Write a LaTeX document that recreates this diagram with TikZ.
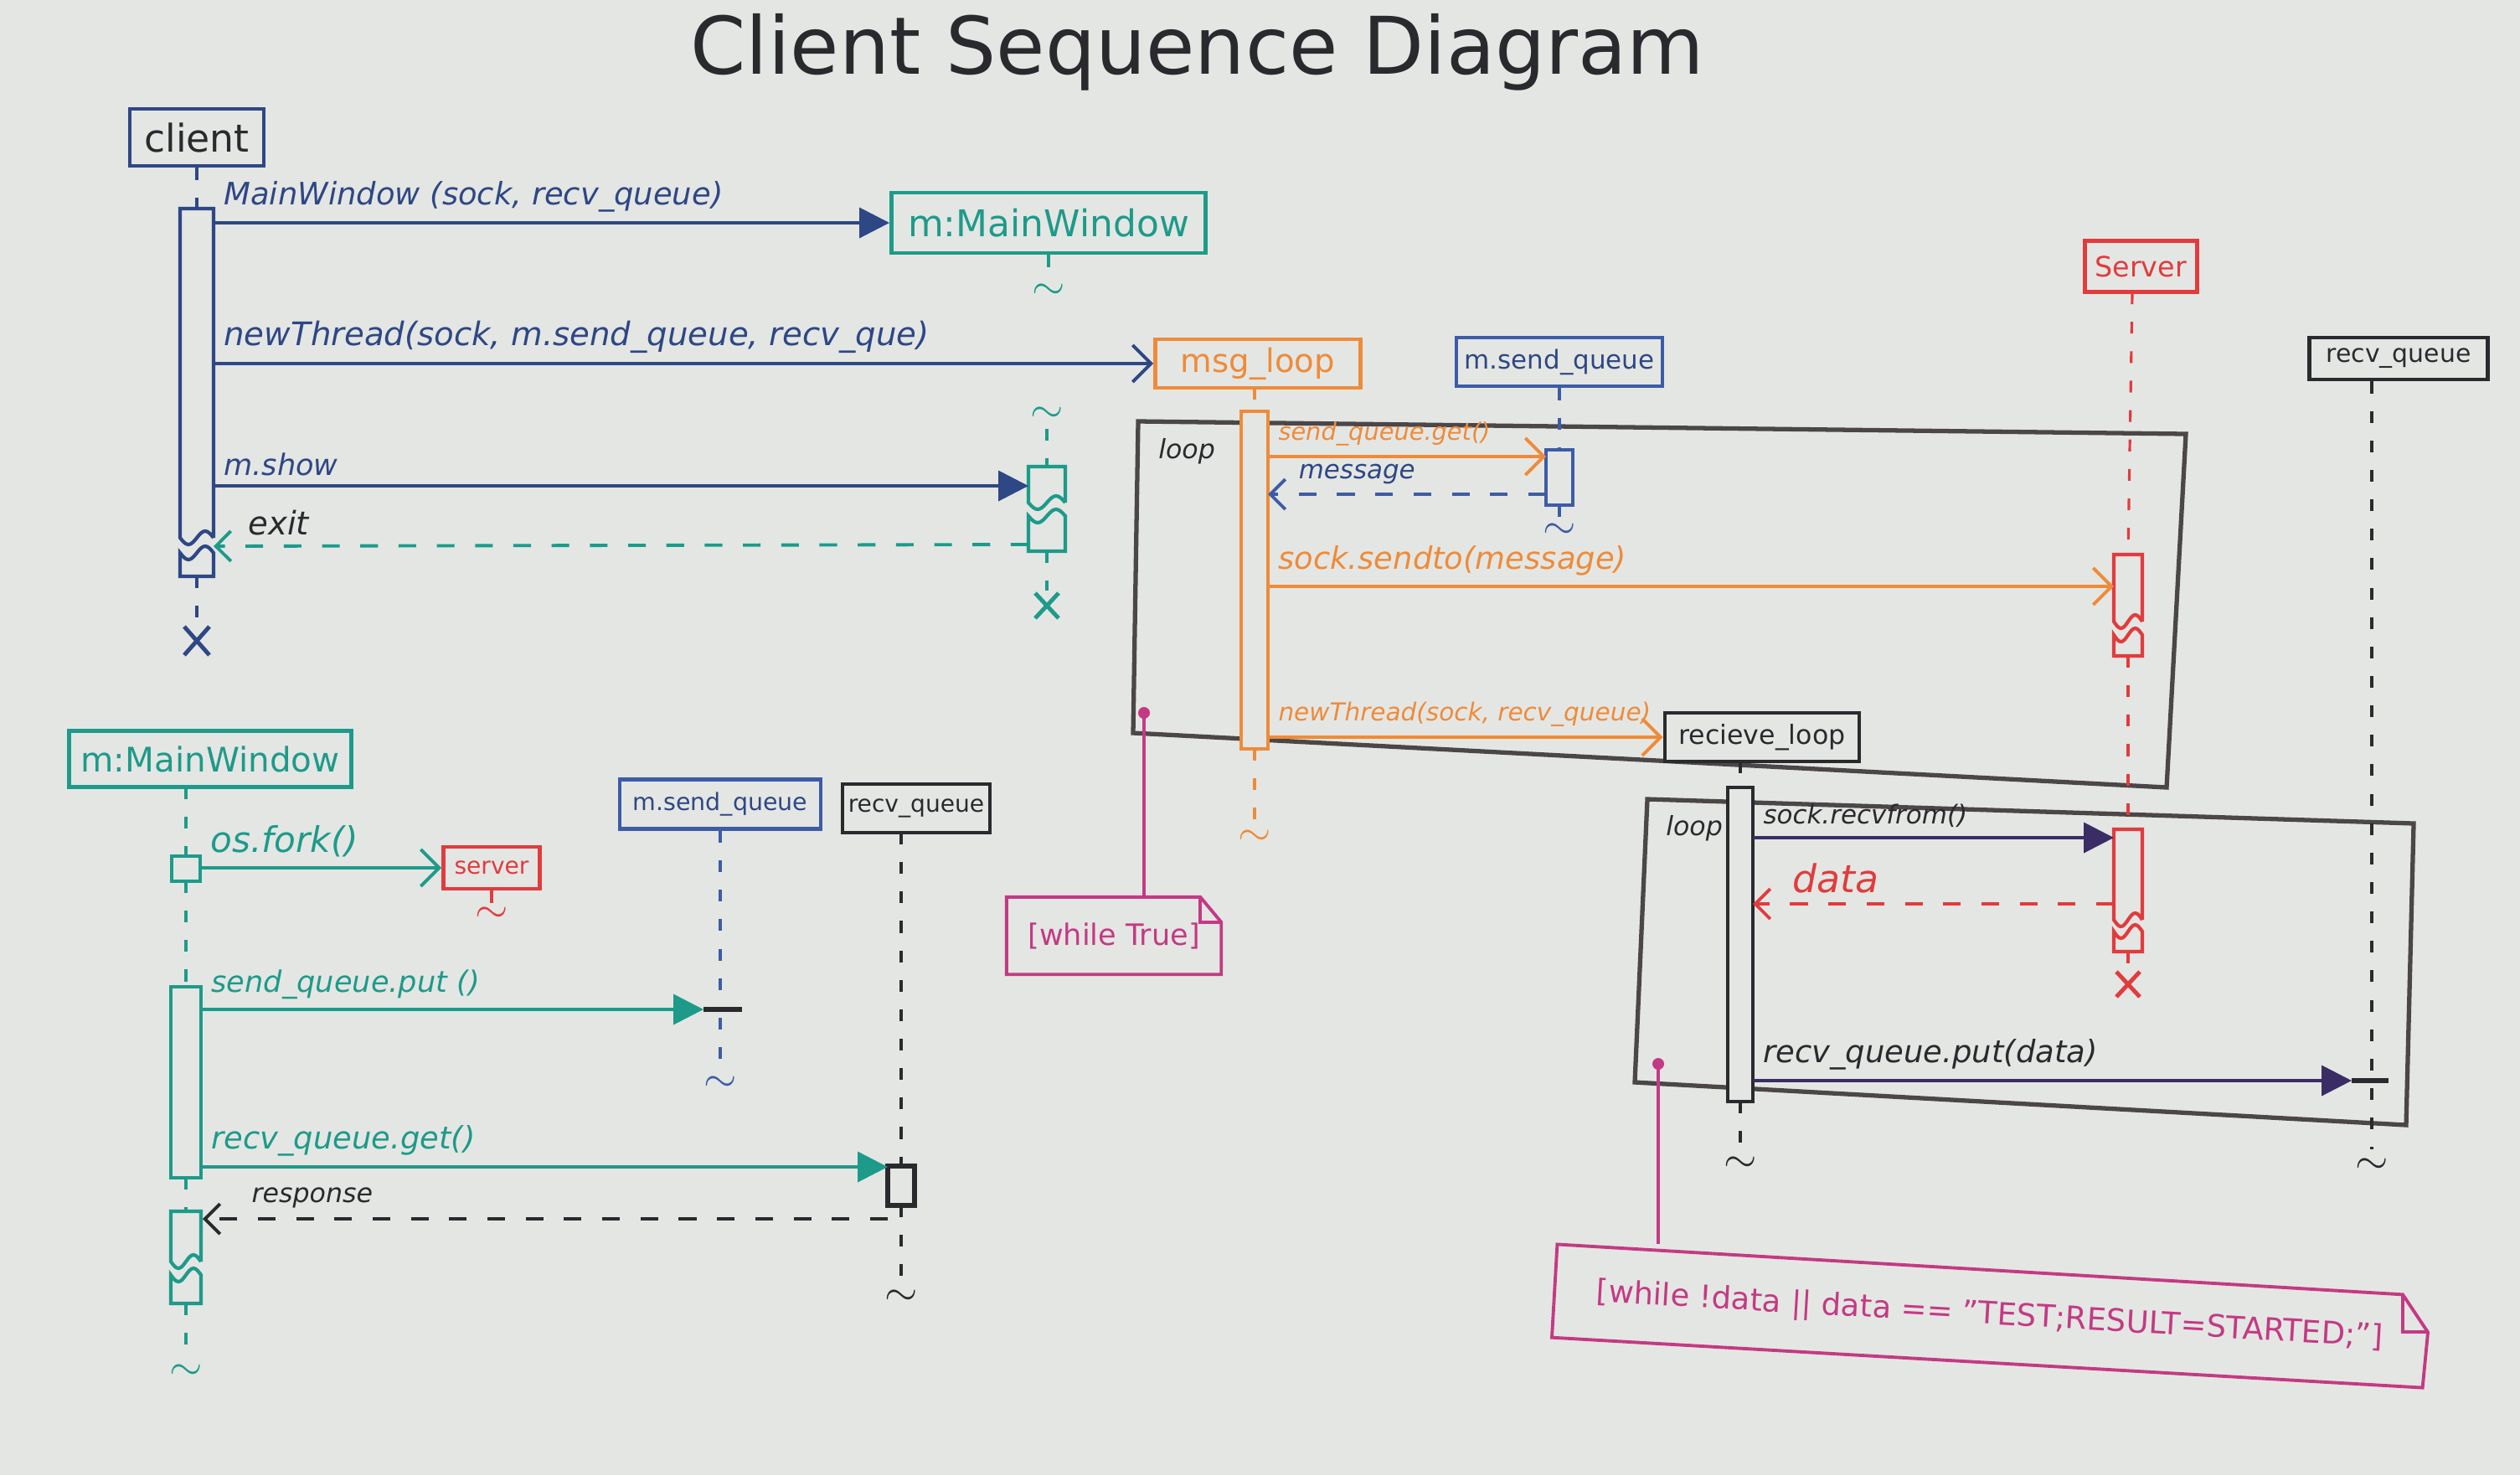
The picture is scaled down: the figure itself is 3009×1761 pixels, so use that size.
\documentclass[tikz,border=0pt]{standalone}
\usepackage{fontspec}
\setmainfont{DejaVu Sans}
\usetikzlibrary{arrows.meta}

\definecolor{board}{HTML}{E4E6E3}
\definecolor{ink}{HTML}{2A2A2E}
\definecolor{navy}{HTML}{2E4785}
\definecolor{qblue}{HTML}{3D5CA6}
\definecolor{tealm}{HTML}{1E9A8A}
\definecolor{orangem}{HTML}{EE8B3A}
\definecolor{redm}{HTML}{E03C3E}
\definecolor{grayf}{HTML}{4B4647}
\definecolor{pinkm}{HTML}{C33A84}
\definecolor{purplem}{HTML}{3A2D66}

\begin{document}
\begin{tikzpicture}[
    x=0.1mm, y=-0.1mm,
    obj/.style={rectangle, draw, fill=board, line width=1.4pt, inner sep=0pt, font=\fontsize{#1}{#1}\selectfont},
    obj/.default=12,
    life/.style={line width=0.9pt, dash pattern=on 4pt off 6pt},
    act/.style={line width=1.2pt, fill=board},
    msg/.style={line width=1.1pt, -{Triangle[length=3.6mm, width=3.6mm]}},
    call/.style={line width=1.1pt, -{Straight Barb[length=2.2mm, width=4.4mm, line width=1.1pt]}},
    ret/.style={line width=1.1pt, dash pattern=on 6pt off 7pt, -{Straight Barb[length=1.8mm, width=3.6mm, line width=1.1pt]}},
    lbl/.style={inner sep=3pt, font=\itshape\fontsize{#1}{#1}\selectfont},
    lbl/.default=10.5,
    notetxt/.style={inner sep=0pt, font=\fontsize{#1}{#1}\selectfont},
    tld/.style={inner sep=0pt, font=\fontsize{15}{15}\selectfont},
    frm/.style={draw=grayf, line width=1.5pt},
    notebox/.style={draw=pinkm, line width=1.1pt},
    cross/.style={line width=1.4pt}
  ]
    % Board
    \fill[board] (0,0) rectangle (3009,1761);

    % Title
    \node[text=ink, font=\fontsize{27}{30}\selectfont] (title) at (1430,62) {Client Sequence Diagram};

    % Loop frames
    \draw[frm] (1359,503) -- (2610,518) -- (2587,940) -- (1353,875) -- cycle;
    \node[lbl=9, text=ink, anchor=north west] (loopA) at (1372,512) {loop};
    \draw[frm] (1967,954) -- (2882,983) -- (2873,1343) -- (1952,1292) -- cycle;
    \node[lbl=9, text=ink, anchor=north west] (loopB) at (1978,962) {loop};

    % Notes
    \coordinate (dotA) at (1366,851);
    \node[notetxt=10, text=pinkm, minimum width=2.55cm, minimum height=0.91cm] (noteA) at (1330,1117) {[while True]};
    \draw[notebox] (noteA.south west) -- (noteA.north west) -- ([xshift=-0.25cm]noteA.north east) -- ([yshift=-0.3cm]noteA.north east) -- (noteA.south east) -- cycle;
    \draw[notebox] ([xshift=-0.25cm]noteA.north east) |- ([yshift=-0.3cm]noteA.north east);
    \fill[pinkm] (dotA) circle (0.7mm);
    \draw[pinkm, line width=0.9pt] (dotA) -- (noteA.north -| dotA);

    \coordinate (dotB) at (1980,1270);
    \node[notetxt=10.5, text=pinkm, rotate=-3.3, minimum width=10.4cm, minimum height=1.1cm] (noteB) at (2376,1571) {[while !data || data == \symbol{34}TEST;RESULT=STARTED;\symbol{34}]};
    \draw[notebox] (noteB.south west) -- (noteB.north west) -- ([xshift=-0.3cm]noteB.north east) -- ([yshift=-0.45cm]noteB.north east) -- (noteB.south east) -- cycle;
    \draw[notebox] ([xshift=-0.3cm]noteB.north east) |- ([yshift=-0.45cm]noteB.north east);
    \fill[pinkm] (dotB) circle (0.7mm);
    \draw[pinkm, line width=0.9pt] (dotB) -- (noteB.north west -| dotB);

    % Participants
    \node[obj=13, draw=navy, text=ink, minimum width=1.6cm, minimum height=0.68cm] (client) at (235,164) {client};
    \node[obj=12.5, draw=tealm, text=tealm, minimum width=3.75cm, minimum height=0.72cm] (mw) at (1252,266) {m:MainWindow};
    \node[obj=11, draw=orangem, text=orangem, minimum width=2.45cm, minimum height=0.58cm] (msgloop) at (1502,434) {msg\_loop};
    \node[obj=8.8, draw=qblue, text=navy, minimum width=2.46cm, minimum height=0.58cm] (sendq) at (1862,432) {m.send\_queue};
    \node[obj=9.5, draw=redm, text=redm, minimum width=1.34cm, minimum height=0.61cm] (server) at (2556,318) {Server};
    \node[obj=8.5, draw=ink, text=ink, minimum width=2.13cm, minimum height=0.5cm] (recvq) at (2864,428) {recv\_queue};
    \node[obj=9, draw=ink, text=ink, minimum width=2.32cm, minimum height=0.58cm] (recvloop) at (2104,880) {recieve\_loop};

    \node[obj=11.5, draw=tealm, text=tealm, minimum width=3.37cm, minimum height=0.67cm] (mw2) at (251,906) {m:MainWindow};
    \node[obj=8, draw=redm, text=redm, minimum width=1.15cm, minimum height=0.5cm] (srv) at (587,1036) {server};
    \node[obj=8.1, draw=qblue, text=navy, minimum width=2.4cm, minimum height=0.59cm] (sendq2) at (860,960) {m.send\_queue};
    \node[obj=8, draw=ink, text=ink, minimum width=1.76cm, minimum height=0.58cm] (recvq2) at (1094,965) {recv\_queue};

    % client lifeline
    \draw[life, navy] (client.south) -- (235,249);
    \draw[act, draw=navy] (255,642) -- (255,249) -- (215,249) -- (215,642) sin ++(10,8) cos ++(10,-8) sin ++(10,-8) cos ++(10,8);
    \draw[act, draw=navy] (215,660) sin ++(10,8) cos ++(10,-8) sin ++(10,-8) cos ++(10,8) -- (255,688) -- (215,688) -- cycle;
    \draw[life, navy] (235,688) -- (235,745);
    \draw[cross, navy] (220,748) -- (250,782) (250,748) -- (220,782);

    % m:MainWindow lifeline
    \draw[life, tealm] (mw.south) -- ++(0,30);
    \node[tld, text=tealm] (mwT1) at (1252,348) {$\sim$};
    \node[tld, text=tealm] (mwT2) at (1250,495) {$\sim$};
    \draw[life, tealm] (1250,512) -- (1250,557);
    \draw[act, draw=tealm] (1272,600) -- (1272,557) -- (1228,557) -- (1228,600) sin ++(11,8) cos ++(11,-8) sin ++(11,-8) cos ++(11,8);
    \draw[act, draw=tealm] (1228,616) sin ++(11,8) cos ++(11,-8) sin ++(11,-8) cos ++(11,8) -- (1272,658) -- (1228,658) -- cycle;
    \draw[life, tealm] (1250,658) -- (1250,705);
    \draw[cross, tealm] (1236,708) -- (1264,738) (1264,708) -- (1236,738);

    % client messages
    \coordinate (cA) at (255,266);
    \coordinate (cB) at (255,434);
    \coordinate (cC) at (255,580);
    \coordinate (cD) at (255,652);
    \coordinate (mwA) at (1228,580);
    \coordinate (mwB) at (1228,650);
    \draw[msg, navy] (cA) -- (mw.west) node[lbl, text=navy, pos=0, above right] (lA) {MainWindow (sock, recv\_queue)};
    \draw[call, navy] (cB) -- (msgloop.west) node[lbl=11, text=navy, pos=0, above right] (lB) {newThread(sock, m.send\_queue, recv\_que)};
    \draw[msg, navy] (cC) -- (mwA) node[lbl=10, text=navy, pos=0, above right] (lC) {m.show};
    \draw[ret, tealm] (mwB) -- (cD) node[lbl=11, text=ink, pos=0.92, above] (lD) {exit};

    % msg_loop lifeline
    \draw[life, orangem] (1498,463) -- (1498,491);
    \draw[act, draw=orangem] (1482,491) rectangle (1514,894);
    \draw[life, orangem] (1498,894) -- (1498,982);
    \node[tld, text=orangem] (mlT) at (1498,1000) {$\sim$};

    % m.send_queue lifeline
    \draw[life, qblue] (sendq.south) -- ++(0,76);
    \draw[act, draw=qblue] (1846,537) rectangle (1878,603);
    \draw[life, qblue] (1862,603) -- (1862,618);
    \node[tld, text=qblue] (sqT) at (1862,634) {$\sim$};

    % Server lifeline
    \draw[life, redm] (2546,349) -- (2541,662);
    \draw[act, draw=redm] (2558,742) -- (2558,662) -- (2524,662) -- (2524,742) sin ++(8.5,8) cos ++(8.5,-8) sin ++(8.5,-8) cos ++(8.5,8);
    \draw[act, draw=redm] (2524,758) sin ++(8.5,8) cos ++(8.5,-8) sin ++(8.5,-8) cos ++(8.5,8) -- (2558,783) -- (2524,783) -- cycle;
    \draw[life, redm] (2541,783) -- (2541,990);
    \draw[act, draw=redm] (2558,1098) -- (2558,990) -- (2524,990) -- (2524,1098) sin ++(8.5,8) cos ++(8.5,-8) sin ++(8.5,-8) cos ++(8.5,8);
    \draw[act, draw=redm] (2524,1112) sin ++(8.5,8) cos ++(8.5,-8) sin ++(8.5,-8) cos ++(8.5,8) -- (2558,1136) -- (2524,1136) -- cycle;
    \draw[life, redm] (2541,1136) -- (2541,1158);
    \draw[cross, redm] (2527,1160) -- (2555,1190) (2555,1160) -- (2527,1190);

    % msg_loop messages
    \coordinate (mlA) at (1514,545);
    \coordinate (sqA) at (1846,545);
    \coordinate (sqB) at (1846,590);
    \coordinate (mlB) at (1514,590);
    \coordinate (mlC) at (1514,700);
    \coordinate (svA) at (2524,700);
    \coordinate (mlD) at (1514,880);
    \draw[call, orangem] (mlA) -- (sqA) node[lbl=8.2, text=orangem, pos=0, above right] (lE) {send\_queue.get()};
    \draw[ret, qblue] (sqB) -- (mlB) node[lbl=8.8, text=navy, pos=0.68, above] (lF) {message};
    \draw[call, orangem] (mlC) -- (svA) node[lbl=10.5, text=orangem, pos=0, above right] (lG) {sock.sendto(message)};
    \draw[call, orangem] (mlD) -- (recvloop.west) node[lbl=8.4, text=orangem, pos=0, above right] (lH) {newThread(sock, recv\_queue)};

    % recieve_loop lifeline
    \draw[life, ink] (2078,909) -- (2078,940);
    \draw[act, draw=ink] (2063,940) rectangle (2093,1315);
    \draw[life, ink] (2078,1315) -- (2078,1372);
    \node[tld, text=ink] (rlT) at (2078,1390) {$\sim$};

    % recv_queue lifeline
    \draw[life, ink] (recvq.south -| 2832,0) -- (2832,1372);
    \node[tld, text=ink] (rqT) at (2832,1392) {$\sim$};

    % recieve_loop messages
    \coordinate (rlA) at (2093,1000);
    \coordinate (svB) at (2524,1000);
    \coordinate (svC) at (2524,1079);
    \coordinate (rlB) at (2093,1079);
    \coordinate (rlC) at (2093,1290);
    \coordinate (rqA) at (2808,1290);
    \draw[msg, purplem] (rlA) -- (svB) node[lbl=8.8, text=ink, pos=0, above right] (lI) {sock.recvfrom()};
    \draw[ret, redm] (svC) -- (rlB) node[lbl=13, text=redm, pos=0.77, above] (lJ) {data};
    \draw[msg, purplem] (rlC) -- (rqA) node[lbl=10.5, text=ink, pos=0, above right] (lK) {recv\_queue.put(data)};
    \draw[ink, line width=1.5pt] (rqA) -- ++(44,0);

    % m:MainWindow (second view) lifeline
    \draw[life, tealm] (222,940) -- (222,1022);
    \draw[act, draw=tealm] (205,1022) rectangle (239,1052);
    \draw[life, tealm] (222,1052) -- (222,1178);
    \draw[act, draw=tealm] (204,1178) rectangle (240,1406);
    \draw[life, tealm] (222,1406) -- (222,1446);
    \draw[act, draw=tealm] (240,1506) -- (240,1446) -- (204,1446) -- (204,1506) sin ++(9,8) cos ++(9,-8) sin ++(9,-8) cos ++(9,8);
    \draw[act, draw=tealm] (204,1522) sin ++(9,8) cos ++(9,-8) sin ++(9,-8) cos ++(9,8) -- (240,1556) -- (204,1556) -- cycle;
    \draw[life, tealm] (222,1556) -- (222,1620);
    \node[tld, text=tealm] (mw2T) at (222,1638) {$\sim$};

    % server, m.send_queue, recv_queue (second view)
    \draw[life, redm] (srv.south) -- ++(0,16);
    \node[tld, text=redm] (srvT) at (587,1092) {$\sim$};
    \draw[life, qblue] (sendq2.south) -- (860,1192);
    \draw[ink, line width=1.6pt] (840,1205) -- (886,1205);
    \draw[life, qblue] (860,1215) -- (860,1278);
    \node[tld, text=qblue] (sq2T) at (860,1294) {$\sim$};
    \draw[life, ink] (1076,994) -- (1076,1392);
    \draw[act, draw=ink, line width=1.6pt] (1060,1392) rectangle (1092,1439);
    \draw[life, ink] (1076,1439) -- (1076,1530);
    \node[tld, text=ink] (rq2T) at (1076,1549) {$\sim$};

    % second view messages
    \coordinate (mwbA) at (239,1036);
    \coordinate (mwbB) at (240,1205);
    \coordinate (sq2A) at (840,1205);
    \coordinate (mwbC) at (240,1393);
    \coordinate (rq2A) at (1060,1393);
    \coordinate (rq2B) at (1060,1455);
    \coordinate (mwbD) at (242,1455);
    \draw[call, tealm] (mwbA) -- (srv.west) node[lbl=12, text=tealm, pos=0, above right] (lL) {os.fork()};
    \draw[msg, tealm] (mwbB) -- (sq2A) node[lbl=10, text=tealm, pos=0, above right] (lM) {send\_queue.put ()};
    \draw[msg, tealm] (mwbC) -- (rq2A) node[lbl=10.5, text=tealm, pos=0, above right] (lN) {recv\_queue.get()};
    \draw[ret, ink] (rq2B) -- (mwbD) node[lbl=9, text=ink, pos=0.84, above] (lO) {response};
  \end{tikzpicture}
\end{document}
